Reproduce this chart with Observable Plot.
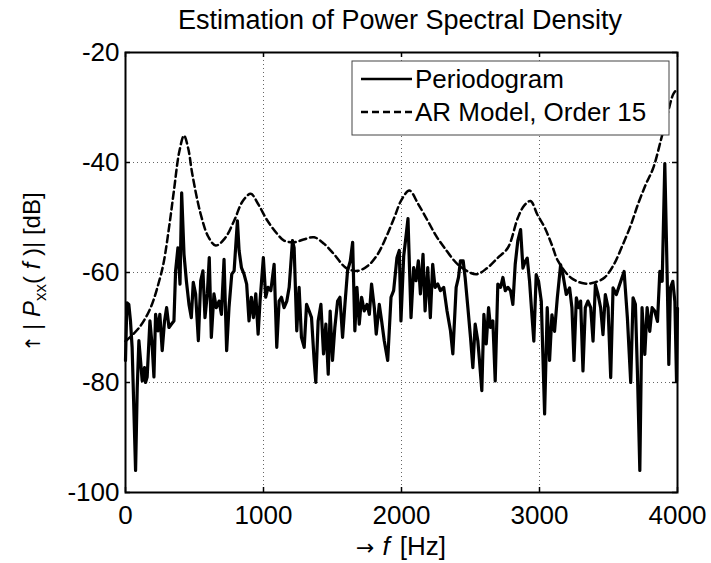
<!DOCTYPE html>
<html><head><meta charset="utf-8">
<script src="https://cdn.jsdelivr.net/npm/d3@7"></script>
<script src="https://cdn.jsdelivr.net/npm/@observablehq/plot@0.6"></script>
<style>body{margin:0;background:#fff} svg{display:block}</style>
</head><body><div id="chart"></div>
<script>
// Periodogram (frequency in Hz, level in dB)
const pgFreq = [0,10,24,36,48,73,85,97,109,121,138,145,157,177,194,206,218,235,249,266,283,298,315,332,351,363,380,395,407,424,441,460,477,491,508,528,545,561,576,593,607,622,641,658,678,695,714,733,750,770,787,811,823,840,859,878,895,912,927,944,961,975,999,1016,1033,1053,1077,1096,1113,1130,1149,1169,1186,1210,1222,1241,1258,1275,1295,1312,1331,1348,1367,1379,1396,1416,1435,1452,1469,1483,1500,1517,1537,1554,1573,1590,1609,1629,1646,1662,1677,1694,1711,1730,1750,1767,1783,1803,1817,1839,1856,1875,1900,1924,1943,1967,1984,1996,2016,2030,2047,2069,2088,2105,2122,2137,2156,2171,2190,2209,2226,2243,2263,2282,2306,2330,2355,2372,2396,2413,2427,2447,2461,2481,2500,2517,2534,2553,2565,2582,2597,2614,2631,2645,2662,2679,2698,2718,2735,2752,2771,2790,2807,2824,2843,2863,2880,2896,2911,2928,2945,2959,2976,2993,3013,3037,3056,3073,3090,3109,3129,3153,3170,3194,3218,3235,3250,3267,3284,3298,3315,3332,3351,3371,3388,3405,3424,3443,3460,3477,3497,3516,3533,3557,3581,3613,3637,3661,3678,3695,3710,3727,3743,3763,3780,3799,3816,3835,3855,3872,3889,3908,3925,3937,3949,3966,3981,3993,4000];
const pgDb = [-76,-65.5,-65.8,-68.8,-73.6,-96,-81,-72.4,-76,-79.7,-77.3,-80,-79,-68.8,-73.6,-79,-67.6,-70.6,-67.6,-74.2,-68.8,-66.4,-70,-69.4,-68.8,-59.7,-55.5,-62.1,-45.5,-56.7,-61.5,-65.8,-68.2,-61.8,-63.9,-72.4,-61.5,-59.7,-68.2,-63.9,-57.3,-71.8,-63.9,-66.4,-65.2,-67.6,-57.6,-74.2,-66.4,-60.3,-59.7,-50.6,-56,-59.1,-60.3,-62.1,-68.8,-64.5,-68.2,-63.9,-71.2,-65.2,-57.3,-64.5,-62.7,-63.3,-58.5,-73.6,-65.2,-64.5,-66.4,-65.2,-62.7,-54.2,-55.5,-70.6,-62.7,-71.8,-73.6,-65.8,-67,-68.2,-76,-80,-68.8,-65.8,-74.8,-69.4,-78.5,-67,-76,-70,-65.2,-64.5,-71.8,-65.8,-59.7,-57.9,-54.5,-70.6,-62.7,-69.4,-64.5,-67,-65.8,-67.6,-62.1,-66.4,-71.2,-65.8,-68.8,-72.4,-76,-64.5,-63.3,-57.3,-56,-68.8,-57,-54,-50.2,-68.2,-59.1,-61.5,-57.9,-63.9,-56.7,-67,-59.1,-68.2,-58.5,-62.7,-62.1,-63.3,-62.7,-67,-70.6,-74.8,-62.7,-60.9,-57.9,-57.9,-60.9,-66.4,-71.8,-77.3,-69.4,-72.4,-76,-81.5,-67.6,-73,-66.4,-70,-68.8,-79.7,-62.1,-62.7,-60.9,-63.3,-62.7,-63.3,-65.8,-58.5,-54.2,-52.2,-59.2,-58,-57.4,-61.6,-67.7,-72.5,-60.4,-61.6,-65.2,-85.7,-66.4,-76,-67.7,-70.7,-64.6,-58.6,-60.4,-64,-62.8,-66.4,-76,-64.6,-66.4,-65.2,-77.9,-66.4,-65.2,-66.4,-72.5,-62.2,-64,-66.4,-71.3,-64,-66.4,-79.1,-62.8,-64,-62.2,-59.8,-68.3,-80,-64.6,-65.8,-78.5,-96,-66.4,-74.9,-66.4,-70.7,-66.4,-67,-68.9,-59.8,-61.6,-40.2,-60.4,-76.7,-62.8,-61.6,-65.3,-79.8,-66.5];

// AR model, order 15 (frequency in Hz, level in dB)
const arFreq = [0,100,182,250,278,320,351,390,424,455,484,545,600,653,720,787,850,908,960,1029,1100,1149,1222,1290,1367,1440,1512,1600,1682,1760,1827,1890,1948,2000,2057,2120,2190,2250,2311,2420,2541,2620,2699,2771,2844,2890,2935,2985,3037,3090,3134,3230,3327,3400,3472,3540,3594,3660,3715,3770,3824,3884,3930,3969,4000];
const arDb = [-72.5,-70,-66.4,-61,-58,-51,-45.1,-38,-35.1,-37.5,-42.1,-49.4,-53.5,-55.1,-53.8,-50.6,-47,-45.7,-47.5,-50.6,-53,-54.2,-54.5,-54,-53.6,-54.8,-56.7,-59.2,-59.7,-58.7,-56.7,-53.5,-50,-46.8,-45.1,-47.5,-50.6,-53.3,-55.5,-58.8,-60.3,-59.2,-57.3,-55.5,-50,-47.8,-47,-49.5,-51.8,-55,-57.9,-61,-62,-61.8,-60.9,-58.5,-55.5,-51.5,-47.5,-44,-41,-35.5,-31,-27.6,-26.5];

const xTicks = [0, 1000, 2000, 3000, 4000];
const yTicks = [-100, -80, -60, -40, -20];
const titleText = "Estimation of Power Spectral Density";
const legendLabels = ["Periodogram", "AR Model, Order 15"];

const periodogram = pgFreq.map((f, i) => ({f, db: pgDb[i]}));
const ar = arFreq.map((f, i) => ({f, db: arDb[i]}));

const W = 711, H = 563, mL = 125, mR = 34, mT = 52, mB = 71;
const fw = W - mL - mR, fh = H - mT - mB;
const font = "'Liberation Sans', Arial, Helvetica, sans-serif";
const fs = 26;
const gridStyle = {stroke: "#000", strokeOpacity: 0.6, strokeDasharray: "1,3", strokeWidth: 1};
const tickStyle = {stroke: "#000", strokeWidth: 1.5};
const fmt = d => String(d);

const chart = Plot.plot({
  width: W, height: H,
  marginLeft: mL, marginRight: mR, marginTop: mT, marginBottom: mB,
  style: {fontFamily: font, background: "#fff", color: "#000"},
  x: {domain: [0, 4000]},
  y: {domain: [-100, -20]},
  marks: [
    Plot.gridX(xTicks, gridStyle),
    Plot.gridY(yTicks, gridStyle),
    Plot.line(periodogram, {x: "f", y: "db", stroke: "#000", strokeWidth: 3.2}),
    Plot.line(ar, {x: "f", y: "db", stroke: "#000", strokeWidth: 2.5, strokeDasharray: "7,4", curve: "catmull-rom"}),
    Plot.ruleX(xTicks, {insetTop: fh - 5, ...tickStyle}),
    Plot.ruleX(xTicks, {insetBottom: fh - 5, ...tickStyle}),
    Plot.ruleY(yTicks, {insetRight: fw - 5, ...tickStyle}),
    Plot.ruleY(yTicks, {insetLeft: fw - 5, ...tickStyle}),
    Plot.frame({stroke: "#000", strokeWidth: 2}),
    Plot.axisX(xTicks, {anchor: "bottom", tickSize: 0, tickPadding: 13, fontSize: fs, label: null, tickFormat: fmt}),
    Plot.axisY(yTicks, {anchor: "left", tickSize: 0, tickPadding: 6, fontSize: fs, label: null, tickFormat: fmt})
  ]
});
document.getElementById("chart").appendChild(chart);

const svg = d3.select(chart);
// Title
svg.append("text").attr("x", 400).attr("y", 29).attr("text-anchor", "middle")
  .attr("font-size", 27).attr("fill", "#000").text(titleText);

// X label
const xl = svg.append("text").attr("x", 401).attr("y", 555).attr("text-anchor", "middle")
  .attr("font-size", fs).attr("fill", "#000");
xl.append("tspan").attr("font-family", "'DejaVu Sans', sans-serif").attr("font-size", 22).text("\u2192");
xl.append("tspan").attr("font-style", "italic").attr("dx", 8).text("f");
xl.append("tspan").attr("dx", 10).text("[Hz]");

// Y label
const yfs = 24;
const yl = svg.append("text").attr("transform", `translate(40,${mT + fh / 2}) rotate(-90)`)
  .attr("text-anchor", "middle").attr("font-size", yfs).attr("fill", "#000");
yl.append("tspan").attr("font-family", "'DejaVu Sans', sans-serif").attr("font-size", 20).text("\u2191");
yl.append("tspan").attr("dx", 5).text("| ");
yl.append("tspan").attr("font-style", "italic").text("P");
yl.append("tspan").attr("font-size", 17).attr("dy", 6).text("xx");
yl.append("tspan").attr("dy", -6).text("( ");
yl.append("tspan").attr("font-style", "italic").text("f");
yl.append("tspan").text(" )| [dB]");

// Legend
const lg = svg.append("g");
lg.append("rect").attr("x", 352).attr("y", 61).attr("width", 317).attr("height", 74)
  .attr("fill", "#fff").attr("stroke", "#444").attr("stroke-width", 1);
const rows = [79, 112];
const dashes = [null, "7,4"];
legendLabels.forEach((t, i) => {
  lg.append("line").attr("x1", 361).attr("x2", 412).attr("y1", rows[i]).attr("y2", rows[i])
    .attr("stroke", "#000").attr("stroke-width", 2.5).attr("stroke-dasharray", dashes[i]);
  lg.append("text").attr("x", 415).attr("y", rows[i] + 9).attr("font-size", fs)
    .attr("text-anchor", "start").attr("fill", "#000").text(t);
});
</script>
</body></html>
